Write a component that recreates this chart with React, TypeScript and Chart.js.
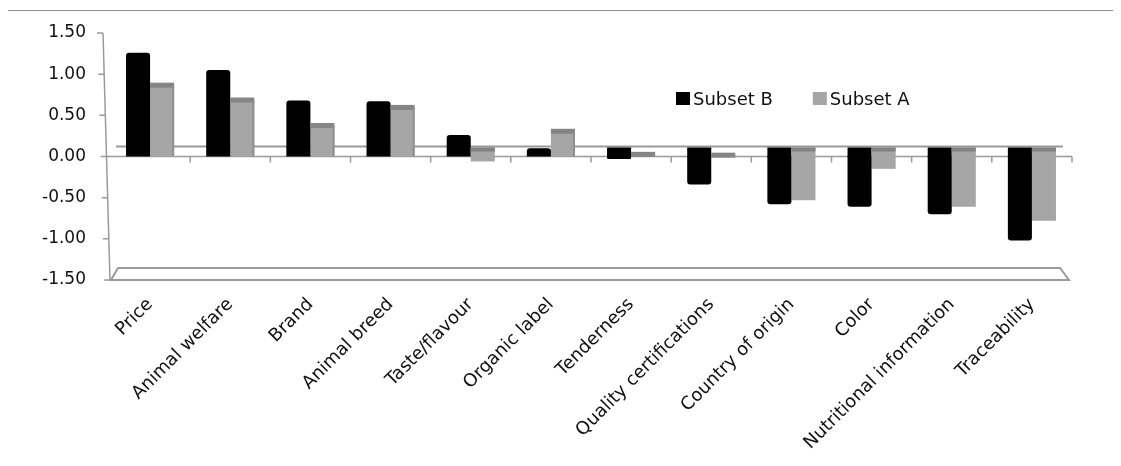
import { useEffect, useRef } from "react";
import { Chart, registerables } from "chart.js";
Chart.register(...registerables);

const categories = [
  "Price",
  "Animal welfare",
  "Brand",
  "Animal breed",
  "Taste/flavour",
  "Organic label",
  "Tenderness",
  "Quality certifications",
  "Country of origin",
  "Color",
  "Nutritional information",
  "Traceability",
];
const subsetB = [1.26, 1.05, 0.68, 0.67, 0.26, 0.1, -0.03, -0.34, -0.58, -0.61, -0.7, -1.02];
const subsetA = [0.86, 0.68, 0.37, 0.59, -0.06, 0.3, 0.02, 0.01, -0.53, -0.15, -0.61, -0.78];
const seriesLabels = ["Subset B", "Subset A"];
const seriesColors = ["#000000", "#a6a6a6"];
const yMin = -1.5;
const yMax = 1.5;
const yStep = 0.5;

const FONT = "'DejaVu Sans', sans-serif";
const AXIS_GRAY = "#9a9a9a";

const deco = {
  id: "deco",
  beforeDatasetsDraw(chart: any) {
    const { ctx, chartArea: ca, scales } = chart;
    const ys = scales.y;
    const z = ys.getPixelForValue(0);
    const fb = ys.getPixelForValue(yMin);
    const axX = (py: number) => ca.left - 7 + (7 * (py - ca.top)) / (fb - ca.top);
    ctx.save();
    ctx.strokeStyle = AXIS_GRAY;
    ctx.lineWidth = 2;
    // floor
    ctx.beginPath();
    ctx.moveTo(ca.left + 1, fb);
    ctx.lineTo(ca.right - 3, fb);
    ctx.lineTo(ca.right - 12, fb - 12);
    ctx.lineTo(ca.left + 8, fb - 12);
    ctx.closePath();
    ctx.stroke();
    // back zero line
    ctx.beginPath();
    ctx.moveTo(ca.left + 6, z - 10);
    ctx.lineTo(ca.right - 9, z - 10);
    ctx.stroke();
    // front zero line with category ticks
    ctx.lineWidth = 1.5;
    ctx.beginPath();
    ctx.moveTo(axX(z), z);
    ctx.lineTo(ca.right, z);
    const w = (ca.right - ca.left) / categories.length;
    for (let k = 1; k <= categories.length; k++) {
      const bx = ca.left + k * w;
      ctx.moveTo(bx, z);
      ctx.lineTo(bx, z + 6);
    }
    ctx.stroke();
    // slanted value axis + tick marks
    ctx.beginPath();
    ctx.moveTo(axX(ca.top), ca.top);
    ctx.lineTo(axX(fb), fb);
    for (let v = yMin; v <= yMax + 1e-9; v += yStep) {
      const py = ys.getPixelForValue(v);
      ctx.moveTo(axX(py) - 6, py);
      ctx.lineTo(axX(py), py);
    }
    ctx.stroke();
    ctx.restore();
  },
  afterDatasetsDraw(chart: any) {
    const { ctx } = chart;
    ctx.save();
    chart.data.datasets.forEach((ds: any, di: number) => {
      const meta = chart.getDatasetMeta(di);
      meta.data.forEach((bar: any, i: number) => {
        const { x: bx, y: by, base, width } = bar.getProps(["x", "y", "base", "width"], true);
        const l = bx - width / 2;
        const r = bx + width / 2;
        const v = ds.data[i];
        if (v < 0) {
          ctx.fillStyle = ds.backgroundColor;
          ctx.fillRect(l, base - 9, width, 10);
          if (di === 1) {
            ctx.fillStyle = "#828282";
            ctx.fillRect(l, base - 9, width, 4);
          }
        } else if (di === 1) {
          ctx.fillStyle = "#858585";
          ctx.fillRect(l, by - 3, width, 5);
          ctx.fillStyle = "#8f8f8f";
          ctx.fillRect(r - 2, by, 2, base - by);
        }
      });
    });
    ctx.restore();
  },
  afterDraw(chart: any) {
    const { ctx, chartArea: ca } = chart;
    ctx.save();
    ctx.font = `18px ${FONT}`;
    ctx.textBaseline = "alphabetic";
    let x0 = ca.left + 566;
    const top = 81;
    seriesLabels.forEach((lab, i) => {
      ctx.fillStyle = seriesColors[i];
      ctx.fillRect(x0, top, 14, 13);
      ctx.fillStyle = "#111";
      ctx.fillText(lab, x0 + 17, top + 13);
      x0 += 17 + ctx.measureText(lab).width + 40;
    });
    ctx.restore();
  },
};

export default function App() {
  const ref = useRef<HTMLCanvasElement>(null);
  useEffect(() => {
    document.body.style.overflow = "hidden";
    const chart = new Chart(ref.current as HTMLCanvasElement, {
      type: "bar",
      data: {
        labels: categories,
        datasets: [
          {
            label: seriesLabels[0],
            data: subsetB,
            backgroundColor: seriesColors[0],
            borderRadius: 3,
            categoryPercentage: 0.6,
            barPercentage: 1,
          },
          {
            label: seriesLabels[1],
            data: subsetA,
            backgroundColor: seriesColors[1],
            categoryPercentage: 0.6,
            barPercentage: 1,
          },
        ],
      },
      options: {
        animation: false,
        responsive: true,
        maintainAspectRatio: false,
        layout: { padding: { left: 0, right: 49, top: 22, bottom: 0 } },
        plugins: { legend: { display: false }, tooltip: { enabled: false } },
        scales: {
          x: {
            grid: { display: false },
            border: { display: false },
            ticks: {
              autoSkip: false,
              minRotation: 45,
              maxRotation: 45,
              padding: 6,
              color: "#111",
              font: { family: FONT, size: 18 },
            },
            afterFit: (s: any) => {
              s.height = 186;
            },
          },
          y: {
            min: yMin,
            max: yMax,
            grid: { display: false, tickLength: 21 },
            border: { display: false },
            ticks: {
              stepSize: yStep,
              padding: 3,
              color: "#111",
              font: { family: FONT, size: 17 },
              callback: (v: any) => Number(v).toFixed(2),
            },
            afterFit: (s: any) => {
              s.width = 102;
            },
          },
        },
      },
      plugins: [deco],
    });
    return () => chart.destroy();
  }, []);
  return (
    <div
      style={{
        position: "relative",
        top: 2,
        left: -1,
        width: 1113,
        height: 455,
        borderTop: "1px solid #8c8c8c",
        borderLeft: "1px solid #8c8c8c",
      }}
    >
      <canvas ref={ref} style={{ display: "block", width: "100%", height: "100%" }} />
    </div>
  );
}
